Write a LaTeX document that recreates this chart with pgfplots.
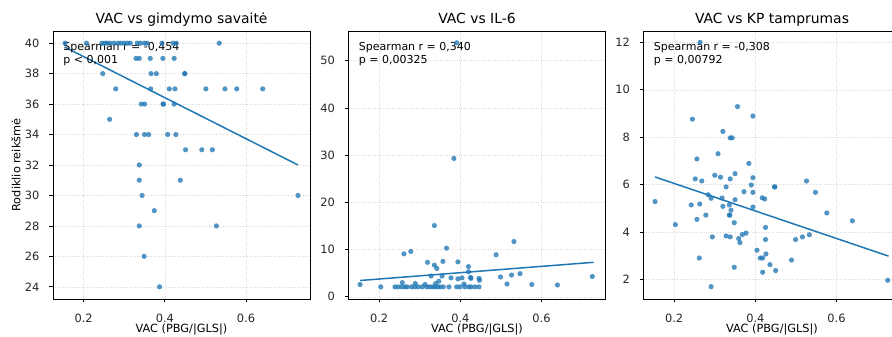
\documentclass[border=0pt]{standalone}
\usepackage{fontspec}
\setmainfont{DejaVu Sans}
\usepackage{pgfplots}
\usepackage{pgfplotstable}
\pgfplotsset{compat=1.18}
\definecolor{tabblue}{HTML}{1F77B4}

% VAC vs gestational week
\pgfplotstableread{
x y
0.154 40
0.207 40
0.245 40
0.252 40
0.258 40
0.265 40
0.275 40
0.285 40
0.292 40
0.300 40
0.308 40
0.315 40
0.332 40
0.340 40
0.350 40
0.356 40
0.393 40
0.420 40
0.428 40
0.534 40
0.329 39
0.337 39
0.364 39
0.395 39
0.423 39
0.247 38
0.366 38
0.379 38
0.449 38
0.449 38
0.279 37
0.365 37
0.411 37
0.425 37
0.501 37
0.548 37
0.577 37
0.641 37
0.342 36
0.350 36
0.396 36
0.396 36
0.423 36
0.264 35
0.330 34
0.350 34
0.360 34
0.407 34
0.427 34
0.451 33
0.491 33
0.517 33
0.337 32
0.337 31
0.438 31
0.344 30
0.728 30
0.374 29
0.337 28
0.527 28
0.349 26
0.387 24
}\datagw

% VAC vs IL-6
\pgfplotstableread{
x y
0.336 15.1
0.532 11.7
0.366 10.3
0.278 9.6
0.261 9.1
0.488 8.9
0.394 7.4
0.357 7.5
0.319 7.3
0.336 6.7
0.342 6.0
0.420 6.4
0.420 5.3
0.328 4.4
0.355 4.4
0.377 4.0
0.394 3.8
0.404 4.0
0.425 4.1
0.426 3.9
0.446 3.9
0.447 3.5
0.499 4.2
0.526 4.6
0.547 4.9
0.725 4.3
0.515 2.7
0.576 2.6
0.639 2.5
0.153 2.6
0.204 2.1
0.257 3.0
0.289 2.8
0.313 2.6
0.339 2.8
0.347 3.3
0.409 2.7
0.239 2.1
0.247 2.1
0.256 2.1
0.264 2.1
0.269 2.1
0.280 2.1
0.288 2.1
0.296 2.1
0.306 2.1
0.317 2.1
0.324 2.1
0.331 2.1
0.337 2.1
0.344 2.1
0.350 2.1
0.358 2.1
0.372 2.1
0.391 2.1
0.399 2.1
0.411 2.1
0.421 2.1
0.426 2.1
0.436 2.1
0.446 2.1
0.384 29.3
0.391 53.8
}\datail

% VAC vs KP stiffness
\pgfplotstableread{
x y
0.264 12.00
0.356 9.29
0.245 8.76
0.394 8.89
0.320 8.24
0.338 7.97
0.343 7.97
0.256 7.08
0.308 7.30
0.384 6.89
0.252 6.24
0.268 6.15
0.300 6.39
0.314 6.31
0.338 6.24
0.350 6.46
0.394 6.29
0.328 5.90
0.390 5.98
0.447 5.90
0.448 5.90
0.526 6.15
0.548 5.67
0.284 5.57
0.291 5.42
0.318 5.43
0.350 5.36
0.372 5.70
0.394 5.67
0.417 5.44
0.423 5.39
0.153 5.28
0.242 5.14
0.263 5.18
0.320 5.08
0.336 5.14
0.340 4.92
0.394 5.05
0.278 4.71
0.256 4.53
0.336 4.71
0.337 4.71
0.203 4.31
0.348 4.39
0.576 4.80
0.639 4.47
0.425 4.19
0.294 3.79
0.328 3.83
0.338 3.79
0.359 3.72
0.368 3.89
0.377 3.95
0.362 3.55
0.425 3.68
0.499 3.68
0.516 3.79
0.533 3.88
0.404 3.23
0.412 2.90
0.418 2.90
0.426 3.07
0.489 2.81
0.262 2.90
0.436 2.62
0.348 2.51
0.418 2.30
0.450 2.37
0.291 1.69
0.726 1.96
}\datakp

\tikzset{
  stat/.style={anchor=north west, align=left, inner sep=0pt,
    font=\fontsize{11}{12.8}\selectfont},
}

\pgfplotsset{
  vacpanel/.style={
    scale only axis, width=257pt, height=268pt,
    anchor=south west,
    xmin=0.1245, xmax=0.7575,
    xtick={0.2,0.4,0.6},
    xticklabels={0.2,0.4,0.6},
    tick align=outside, major tick length=3.5pt,
    tick pos=left,
    tick style={black, line width=0.8pt},
    axis line style={black, line width=0.8pt},
    grid=major,
    grid style={gray!30, line width=0.5pt, dash pattern=on 0.8pt off 1.6pt},
    /pgf/number format/assume math mode=true,
    ticklabel style={font=\fontsize{11.4}{13}\selectfont, text=black!85},
    x tick label style={anchor=base, yshift=-20pt, inner sep=0pt},
    y tick label style={anchor=east, xshift=-10pt, inner sep=0pt},
    every axis title/.style={at={(axis description cs:0.5,1)}, anchor=base,
      yshift=7pt, inner sep=0pt, font=\fontsize{13.9}{16}\selectfont},
    every axis x label/.style={at={(axis description cs:0.5,0)}, anchor=base,
      yshift=-34pt, inner sep=0pt, font=\fontsize{11.3}{13}\selectfont},
    every axis y label/.style={at={(axis description cs:-0.1265,0.5)}, rotate=90,
      anchor=base, inner sep=0pt, font=\fontsize{11.3}{13}\selectfont},
    xlabel={VAC (PBG/|GLS|)},
  },
  pts/.style={only marks, mark=*, mark size=2.6pt, draw=none,
    mark options={draw=none, draw opacity=0, line width=0pt,
      fill=tabblue, fill opacity=0.78}},
  fit/.style={tabblue, line width=1.5pt, no marks},
}

\begin{document}
\begin{tikzpicture}
\begin{axis}[vacpanel, at={(53pt,38pt)},
  ymin=23.2, ymax=40.8, ytick={24,26,...,40},
  title={VAC vs gimdymo savaitė}, ylabel={Rodiklio reikšmė}]
  \addplot[pts] table {\datagw};
  \addplot[fit] coordinates {(0.153,39.75) (0.728,32.0)};
  \node[stat] at (rel axis cs:0.04,0.958) {Spearman r = -0,454\\p < 0,001};
\end{axis}
\begin{axis}[vacpanel, at={(348.5pt,38pt)},
  ymin=-0.47, ymax=56.3, ytick={0,10,...,50},
  title={VAC vs IL-6}]
  \addplot[pts] table {\datail};
  \addplot[fit] coordinates {(0.153,3.45) (0.728,7.3)};
  \node[stat] at (rel axis cs:0.04,0.958) {Spearman r = 0,340\\p = 0,00325};
\end{axis}
\begin{axis}[vacpanel, at={(643.5pt,38pt)},
  ymin=1.17, ymax=12.48, ytick={2,4,...,12},
  title={VAC vs KP tamprumas}]
  \addplot[pts] table {\datakp};
  \addplot[fit] coordinates {(0.153,6.32) (0.728,2.98)};
  \node[stat] at (rel axis cs:0.04,0.958) {Spearman r = -0,308\\p = 0,00792};
\end{axis}
\pgfresetboundingbox
\useasboundingbox (0pt,0pt) rectangle (892pt,337pt);
\end{tikzpicture}
\end{document}
